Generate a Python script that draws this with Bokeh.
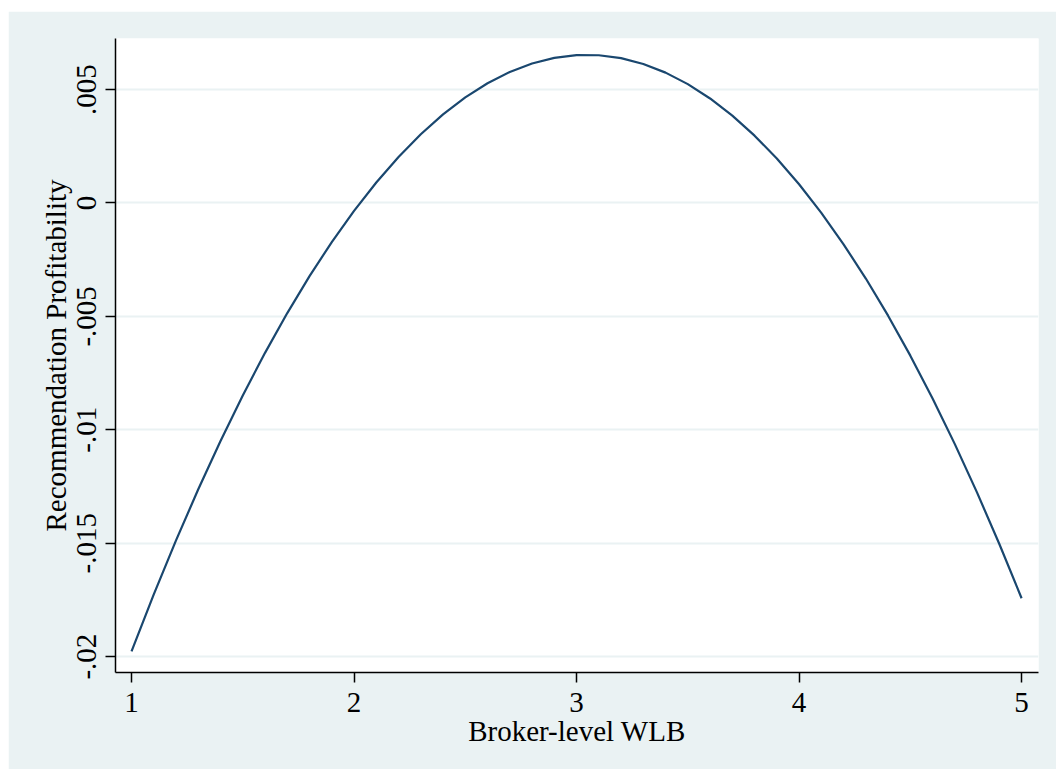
from bokeh.plotting import figure
from bokeh.models import Range1d, FixedTicker, ColumnDataSource
from bokeh.embed import file_html
from bokeh.resources import INLINE

wlb = [1.0, 1.1, 1.2, 1.3, 1.4, 1.5, 1.6, 1.7, 1.8, 1.9, 2.0,
       2.1, 2.2, 2.3, 2.4, 2.5, 2.6, 2.7, 2.8, 2.9, 3.0,
       3.1, 3.2, 3.3, 3.4, 3.5, 3.6, 3.7, 3.8, 3.9, 4.0,
       4.1, 4.2, 4.3, 4.4, 4.5, 4.6, 4.7, 4.8, 4.9, 5.0]
profit = [-0.019766, -0.017259, -0.014877, -0.012622, -0.010492, -0.008487,
          -0.006608, -0.004854, -0.003226, -0.001724, -0.000347,
          0.000904, 0.002030, 0.003031, 0.003905, 0.004654, 0.005278,
          0.005776, 0.006148, 0.006395, 0.006516,
          0.006512, 0.006382, 0.006127, 0.005746, 0.005239, 0.004607,
          0.003850, 0.002967, 0.001958, 0.000823,
          -0.000436, -0.001822, -0.003333, -0.004969, -0.006731, -0.008619,
          -0.010632, -0.012771, -0.015036, -0.017425]
x_ticks = [1, 2, 3, 4, 5]
y_ticks = [-0.02, -0.015, -0.01, -0.005, 0, 0.005]
y_tick_labels = ["-.02", "-.015", "-.01", "-.005", "0", ".005"]

BG = "#EAF2F3"
FONT = "Liberation Serif"

p = figure(width=1048, height=758, output_backend="svg", toolbar_location=None,
           x_range=Range1d(0.928, 5.076), y_range=Range1d(-0.0207, 0.00725),
           min_border_left=107, min_border_right=18, min_border_top=27,
           min_border_bottom=97)
p.margin = (11, 0, 0, 8)
p.border_fill_color = BG
p.background_fill_color = "white"
p.outline_line_color = None

src = ColumnDataSource(dict(x=wlb, y=profit))
p.line("x", "y", source=src, line_color="#1a476f", line_width=2.2)

p.xgrid.grid_line_color = None
p.ygrid.grid_line_color = BG
p.ygrid.grid_line_width = 2

p.xaxis.ticker = FixedTicker(ticks=x_ticks)
p.yaxis.ticker = FixedTicker(ticks=y_ticks)
p.yaxis.major_label_overrides = {t: l for t, l in zip(y_ticks, y_tick_labels)}
p.yaxis.major_label_orientation = "vertical"

p.xaxis.axis_label = "Broker-level WLB"
p.yaxis.axis_label = "Recommendation Profitability"

for ax in (p.xaxis, p.yaxis):
    ax.axis_line_color = "black"
    ax.axis_line_width = 1.5
    ax.major_tick_line_color = "black"
    ax.major_tick_line_width = 1.5
    ax.major_tick_out = 10
    ax.major_tick_in = 0
    ax.minor_tick_line_color = None
    ax.major_label_text_font = FONT
    ax.major_label_text_font_size = "29px"
    ax.major_label_text_color = "black"
    ax.axis_label_text_font = FONT
    ax.axis_label_text_font_size = "29px"
    ax.axis_label_text_font_style = "normal"
    ax.axis_label_text_color = "black"

p.xaxis.major_label_standoff = 10
p.yaxis.major_label_standoff = 9
p.xaxis.axis_label_standoff = 0
p.yaxis.axis_label_standoff = 3

open("out.html", "w").write(file_html(p, INLINE))
